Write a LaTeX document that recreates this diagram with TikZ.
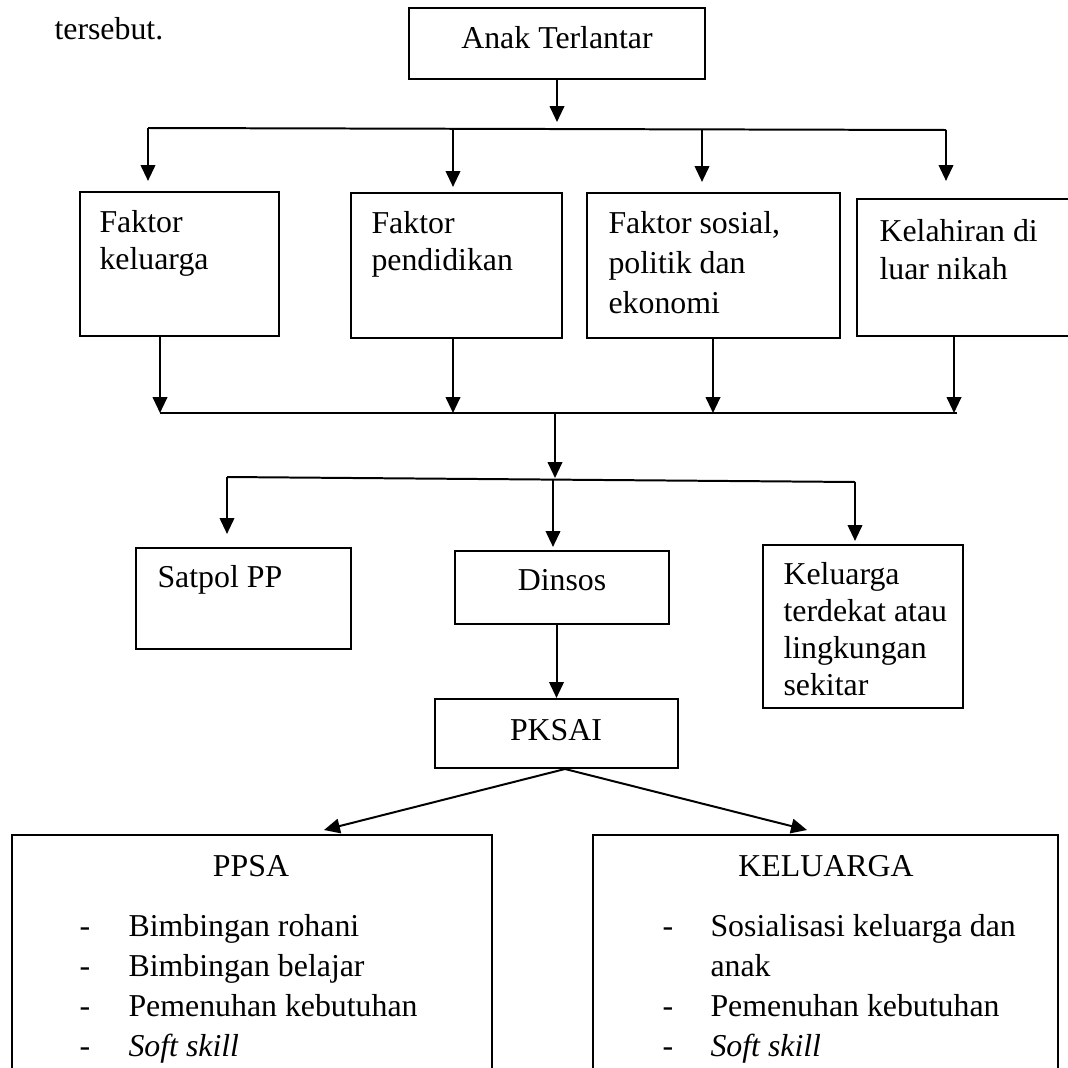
\documentclass[tikz,border=0pt]{standalone}
\usepackage{fontspec}
\setmainfont{Liberation Serif}
\usetikzlibrary{positioning, arrows.meta, fit}

\begin{document}
\begin{tikzpicture}[
  x=0.377pt, y=-0.377pt,
  box/.style={draw, line width=0.8pt, inner sep=0pt},
  txt/.style={anchor=base west, inner sep=0pt, align=left,
              font=\fontsize{12}{#1}\selectfont},
  txt/.default=14pt,
  ctr/.style={anchor=base, inner sep=0pt, font=\fontsize{12}{14}\selectfont},
  arr/.style={line width=0.75pt, -{Triangle[length=6pt, width=5.5pt]}},
  ln/.style={line width=0.75pt}
]
  \useasboundingbox (0,0) rectangle (1068,1068);
  \clip (0,0) rectangle (1068,1068);

  % text before the chart and the root box
  \node[txt] (prev) at (54,40) {tersebut.};
  \node[box, fit={(409,8) (705,79)}] (anak) {};
  \node[ctr] (anakt) at (557,49) {Anak Terlantar};

  % factor boxes (multi-line texts sit on their last baseline)
  \node[box, fit={(80,192) (279,336)}] (fk) {};
  \node[box, fit={(351,193) (562,338)}] (fp) {};
  \node[box, fit={(587,193) (840,338)}] (fs) {};
  \node[box, fit={(857,199) (1100,336)}] (kl) {};
  \node[txt=13.6pt] (fkt) at (99,269) {Faktor\\keluarga};
  \node[txt=13.6pt] (fpt) at (371,270) {Faktor\\pendidikan};
  \node[txt=15pt] (fst) at (608,313) {Faktor sosial,\\politik dan\\ekonomi};
  \node[txt=14.3pt] (klt) at (879,279) {Kelahiran di\\luar nikah};

  % first branching
  \coordinate (t0) at (557,122);
  \coordinate (j1a) at (148,128);
  \coordinate (j1b) at (453,129);
  \coordinate (j1c) at (702,129);
  \coordinate (j1d) at (946,130);
  \draw[arr] (anak.south) -- (t0);
  \draw[ln] (j1a) -- (j1d);
  \foreach \j/\b/\g in {j1a/fk/10, j1b/fp/5, j1c/fs/10, j1d/kl/17}{
    \draw[arr, shorten >=\g*0.377pt] (\j) -- (\j |- \b.north);
  }

  % joining line under the factors
  \coordinate (j2a) at (160,413);
  \coordinate (j2b) at (453,413);
  \coordinate (j2c) at (713,413);
  \coordinate (j2d) at (954,413);
  \coordinate (j2e) at (957,413);
  \coordinate (j2m) at (555,413);
  \draw[ln] (j2a) -- (j2e);
  \foreach \b/\j in {fk/j2a, fp/j2b, fs/j2c, kl/j2d}{
    \draw[arr] (\b.south -| \j) -- (\j);
  }

  % second branching
  \coordinate (j3m) at (555,478);
  \coordinate (j3a) at (227,477);
  \coordinate (j3b) at (553,480);
  \coordinate (j3c) at (855,482);
  \draw[arr] (j2m) -- (j3m);
  \draw[ln] (j3a) -- (j3c);

  \node[box, fit={(136,548) (351,649)}] (satpol) {};
  \node[box, fit={(455,551) (669,624)}] (dinsos) {};
  \node[box, fit={(763,545) (963,708)}] (kdekat) {};
  \node[txt] (satpolt) at (157,587) {Satpol PP};
  \node[ctr] (dinsost) at (562,590) {Dinsos};
  \node[txt=13.9pt] (kdekatt) at (783,695) {Keluarga\\terdekat atau\\lingkungan\\sekitar};
  \foreach \j/\b/\g in {j3a/satpol/13, j3b/dinsos/3, j3c/kdekat/3}{
    \draw[arr, shorten >=\g*0.377pt] (\j) -- (\j |- \b.north);
  }

  % PKSAI
  \node[box, fit={(435,699) (678,768)}] (pksai) {};
  \node[ctr] (pksait) at (556,740) {PKSAI};
  \draw[arr] (dinsos.south -| pksai.north) -- (pksai.north);

  % services
  \node[box, fit={(12,835) (492,1100)}] (ppsa) {};
  \node[box, fit={(593,835) (1058,1100)}] (klg) {};
  \coordinate (pk) at (565,769);
  \coordinate (tp) at (324,830);
  \coordinate (tk) at (807,830);
  \draw[arr] (pk) -- (tp);
  \draw[arr] (pk) -- (tk);

  \node[ctr] (ppsat) at (251,876) {PPSA};
  \node[ctr] (klgt) at (826,876) {KELUARGA};
  \node[txt=15pt] (ppsad) at (79,1056) {-\\-\\-\\-};
  \node[txt=15pt] (ppsai) at (128,1056) {Bimbingan rohani\\Bimbingan belajar\\Pemenuhan kebutuhan\\\textit{Soft skill}};
  \node[txt=15pt] (klgd) at (662,1056) {-\\\mbox{}\\-\\-};
  \node[txt=15pt] (klgi) at (710,1056) {Sosialisasi keluarga dan\\anak\\Pemenuhan kebutuhan\\\textit{Soft skill}};
\end{tikzpicture}
\end{document}
